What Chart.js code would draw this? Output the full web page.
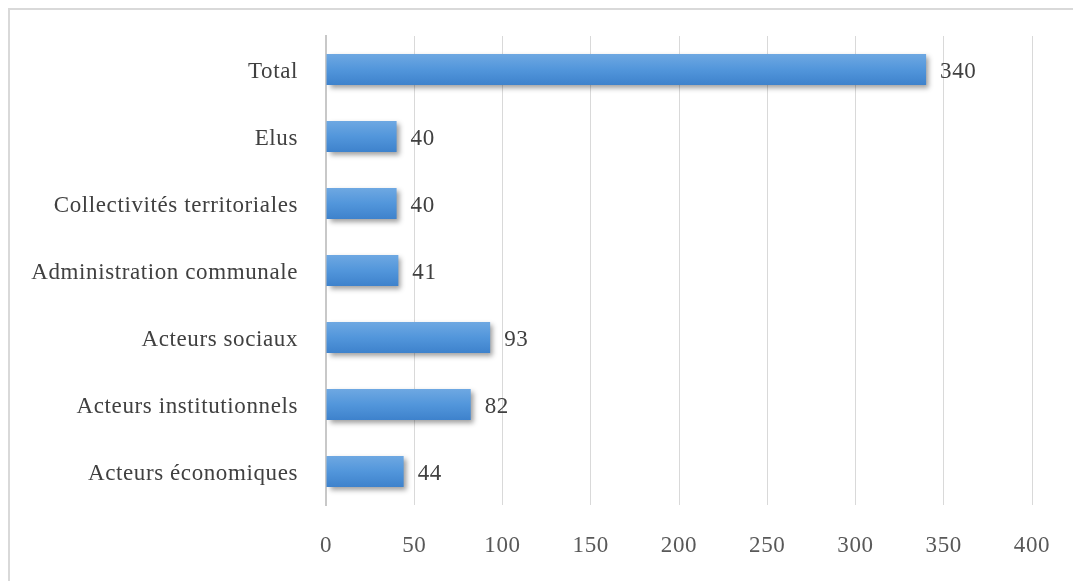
<!DOCTYPE html>
<html lang="fr">
<head>
<meta charset="utf-8">
<title>Acteurs</title>
<script src="https://cdn.jsdelivr.net/npm/chart.js@4.4.1/dist/chart.umd.min.js"></script>
<style>
  html, body { margin: 0; padding: 0; background: #ffffff; }
  #wrap { width: 1073px; height: 581px; }
</style>
</head>
<body>
<div id="wrap"><canvas id="c" width="1073" height="581"></canvas></div>
<script>
// Categories, top to bottom
const categories = [
  'Total',
  'Elus',
  'Collectivités territoriales',
  'Administration communale',
  'Acteurs sociaux',
  'Acteurs institutionnels',
  'Acteurs économiques'
];
// Number of actors per category
const counts = [340, 40, 40, 41, 93, 82, 44];
// Value axis ticks
const axisMin = 0;
const axisMax = 400;
const axisStep = 50;

const FONT = { family: '"Liberation Serif", "Times New Roman", serif', size: 23 };
const SPACING = '0.6px';
const BAR_PCT = 0.46;

// Thin grey frame around the chart
const framePlugin = {
  id: 'frame',
  beforeUpdate(chart) { chart.ctx.letterSpacing = SPACING; },
  beforeDraw(chart) {
    const ctx = chart.ctx;
    ctx.letterSpacing = SPACING;
    ctx.save();
    ctx.fillStyle = '#ffffff';
    ctx.fillRect(0, 0, chart.width, chart.height);
    ctx.strokeStyle = '#d9d9d9';
    ctx.lineWidth = 2;
    ctx.strokeRect(9, 9, chart.width + 40, chart.height + 40);
    ctx.restore();
  }
};

// Soft drop shadow under the bars, then the value at the end of each bar
const barPlugin = {
  id: 'barShadowAndValues',
  beforeDatasetsDraw(chart) {
    const ctx = chart.ctx;
    ctx.save();
    ctx.shadowColor = 'rgba(0,0,0,0.38)';
    ctx.shadowBlur = 5;
    ctx.shadowOffsetX = 3;
    ctx.shadowOffsetY = 3;
  },
  afterDatasetsDraw(chart) {
    const ctx = chart.ctx;
    ctx.restore();
    ctx.save();
    ctx.letterSpacing = SPACING;
    ctx.font = `${FONT.size}px ${FONT.family}`;
    ctx.fillStyle = '#404040';
    ctx.textAlign = 'left';
    ctx.textBaseline = 'middle';
    const meta = chart.getDatasetMeta(0);
    meta.data.forEach((bar, i) => {
      ctx.fillText(String(counts[i]), bar.x + 14, bar.y + 2);
    });
    ctx.restore();
  }
};

function barGradient(context) {
  const chart = context.chart;
  const area = chart.chartArea;
  if (!area || !chart.scales.y) return '#4a8fd6';
  const yScale = chart.scales.y;
  const center = yScale.getPixelForValue(context.dataIndex);
  const half = (area.bottom - area.top) / categories.length * BAR_PCT / 2;
  const g = chart.ctx.createLinearGradient(0, center - half, 0, center + half);
  g.addColorStop(0, '#6ea8e2');
  g.addColorStop(0.5, '#5296db');
  g.addColorStop(1, '#3e82cc');
  return g;
}

new Chart(document.getElementById('c'), {
  type: 'bar',
  data: {
    labels: categories,
    datasets: [{
      data: counts,
      backgroundColor: barGradient,
      borderWidth: 0,
      barPercentage: BAR_PCT,
      categoryPercentage: 1
    }]
  },
  options: {
    indexAxis: 'y',
    responsive: false,
    animation: false,
    devicePixelRatio: 1,
    layout: { padding: { top: 36, right: 41, left: 0, bottom: 0 } },
    plugins: {
      legend: { display: false },
      tooltip: { enabled: false }
    },
    scales: {
      x: {
        min: axisMin,
        max: axisMax,
        afterFit(scale) {
          scale.height = 76;
          scale.paddingRight = 0;
          scale.paddingLeft = 0;
        },
        ticks: {
          stepSize: axisStep,
          padding: 27,
          color: '#595959',
          font: FONT
        },
        grid: { color: '#d9d9d9', lineWidth: 1, drawTicks: false },
        border: { display: false }
      },
      y: {
        afterFit(scale) {
          scale.width = 326;
          scale.paddingTop = 0;
          scale.paddingBottom = 0;
        },
        ticks: {
          padding: 28,
          labelOffset: 2,
          color: '#404040',
          font: FONT
        },
        grid: { display: false, drawTicks: false },
        border: { display: true, color: '#c8c8c8', width: 2 }
      }
    }
  },
  plugins: [framePlugin, barPlugin]
});
</script>
</body>
</html>
